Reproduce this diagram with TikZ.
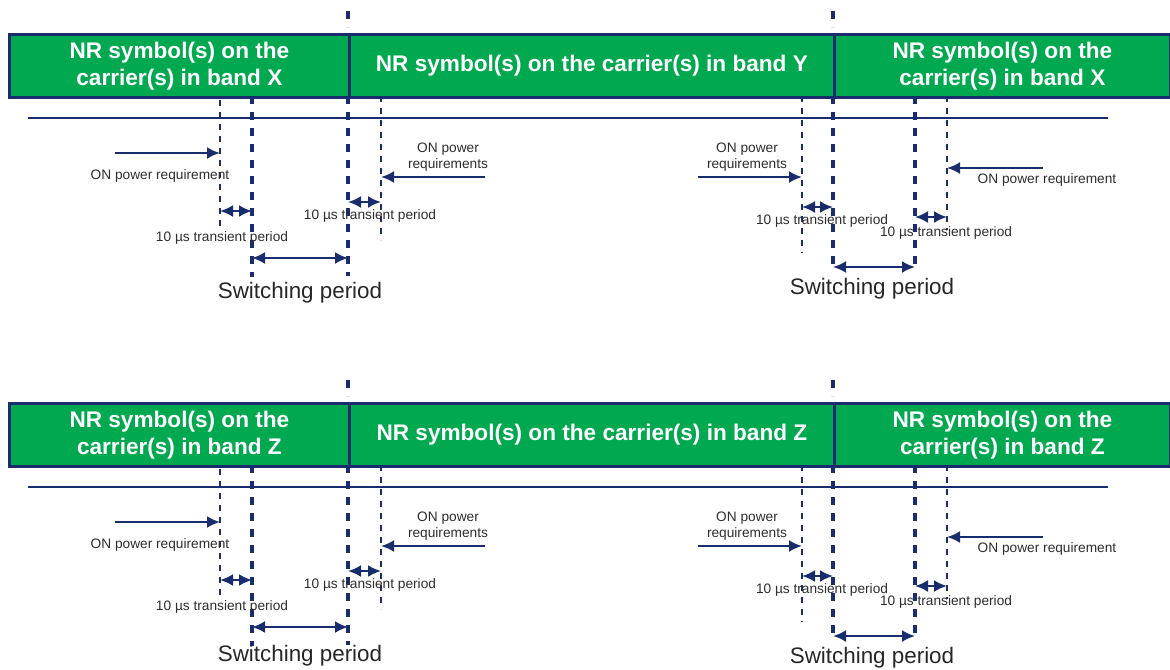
\documentclass[tikz,border=0pt]{standalone}
\usepackage{fontspec}
\setmainfont{Liberation Sans}
\usetikzlibrary{arrows.meta}
\definecolor{nrgreen}{RGB}{0,168,80}
\definecolor{nrnavy}{RGB}{25,45,110}
\definecolor{lblgray}{RGB}{45,45,45}

\begin{document}
\begin{tikzpicture}[x=0.5pt, y=-0.5pt, >={Latex[length=6.5pt,width=6pt]},
  band/.style={draw=nrnavy, line width=1.4pt, fill=nrgreen, text=white, anchor=north west,
    minimum height=31.5pt, inner sep=0pt, align=center,
    font=\fontsize{11.3}{13.5}\selectfont\bfseries},
  axisline/.style={draw=nrnavy, line width=1.3pt},
  thickdash/.style={draw=nrnavy, line width=1.6pt, dash pattern=on 4pt off 4pt},
  thindash/.style={draw=nrnavy, line width=1pt, dash pattern=on 3pt off 3pt},
  conn/.style={draw=nrnavy, line width=1.1pt},
  lbl/.style={text=lblgray, inner sep=0pt, align=center, font=\fontsize{6.85}{8}\selectfont},
  swlbl/.style={text=black!85, inner sep=0pt, font=\fontsize{11.2}{13}\selectfont}]
  \useasboundingbox (0,0) rectangle (1170,669);
  \foreach \r/\dy/\ba/\bb/\sy in {t/0/X/Y/293, b/369/Z/Z/287} {
  \begin{scope}[shift={(0,\dy)}]
    % bands
    \node[band, minimum width=170pt] (bl\r) at (8,33) {NR symbol(s) on the\\carrier(s) in band \ba};
    \node[band, minimum width=242.5pt] (bm\r) at (348,33) {NR symbol(s) on the carrier(s) in band \bb};
    \node[band, minimum width=168pt] (br\r) at (833,33) {NR symbol(s) on the\\carrier(s) in band \ba};
    % time axis
    \coordinate (ax0\r) at (28,118);
    \coordinate (ax1\r) at (1108,118);
    \draw[axisline] (ax0\r) -- (ax1\r);
    % boundaries
    \draw[thickdash] (348,11) -- (348,27);
    \draw[thickdash] (833,11) -- (833,27);
    \coordinate (d1\r) at (220,100); \draw[thindash] (d1\r) -- ++(0,130);
    \coordinate (d2\r) at (252,96);  \draw[thickdash] (d2\r) -- ++(0,181);
    \coordinate (d3\r) at (348,96);  \draw[thickdash] (d3\r) -- ++(0,180);
    \coordinate (d4\r) at (381,96);  \draw[thindash] (d4\r) -- ++(0,144);
    \coordinate (d5\r) at (802,96);  \draw[thindash] (d5\r) -- ++(0,157);
    \coordinate (d6\r) at (833,96);  \draw[thickdash] (d6\r) -- ++(0,171);
    \coordinate (d7\r) at (915,96);  \draw[thickdash] (d7\r) -- ++(0,171);
    \coordinate (d8\r) at (947,96);  \draw[thindash] (d8\r) -- ++(0,134);
    % ON power arrows
    \coordinate (f1\r) at (115,153);
    \draw[conn, ->] (f1\r) -- (d1\r |- f1\r);
    \node[lbl] (on1\r) at (160,176) {ON power requirement};
    \coordinate (f2\r) at (485,177);
    \draw[conn, ->] (f2\r) -- (d4\r |- f2\r);
    \node[lbl] (on2\r) at (448,157) {ON power\\requirements};
    \coordinate (f3\r) at (698,177);
    \draw[conn, ->] (f3\r) -- (d5\r |- f3\r);
    \node[lbl] (on3\r) at (747,157) {ON power\\requirements};
    \coordinate (f4\r) at (1043,168);
    \draw[conn, ->] (f4\r) -- (d8\r |- f4\r);
    \node[lbl] (on4\r) at (1047,180) {ON power requirement};
    % transient periods
    \coordinate (y1\r) at (0,211);
    \draw[conn, <->] (d1\r |- y1\r) -- (d2\r |- y1\r);
    \node[lbl] (tp1\r) at (222,238) {10 µs transient period};
    \coordinate (y2\r) at (0,202);
    \draw[conn, <->] (d3\r |- y2\r) -- (d4\r |- y2\r);
    \node[lbl] (tp2\r) at (370,216) {10 µs transient period};
    \coordinate (y3\r) at (0,207);
    \draw[conn, <->] (d5\r |- y3\r) -- (d6\r |- y3\r);
    \node[lbl] (tp3\r) at (822,221) {10 µs transient period};
    \coordinate (y4\r) at (0,217);
    \draw[conn, <->] (d7\r |- y4\r) -- (d8\r |- y4\r);
    \node[lbl] (tp4\r) at (946,233) {10 µs transient period};
    % switching periods
    \coordinate (s1\r) at (0,258);
    \draw[conn, <->] (d2\r |- s1\r) -- (d3\r |- s1\r);
    \node[swlbl] (sw1\r) at (300,\sy) {Switching period};
    \coordinate (s2\r) at (0,267);
    \draw[conn, <->] (d6\r |- s2\r) -- (d7\r |- s2\r);
    \node[swlbl] (sw2\r) at (872,289) {Switching period};
  \end{scope}
  }
\end{tikzpicture}
\end{document}
